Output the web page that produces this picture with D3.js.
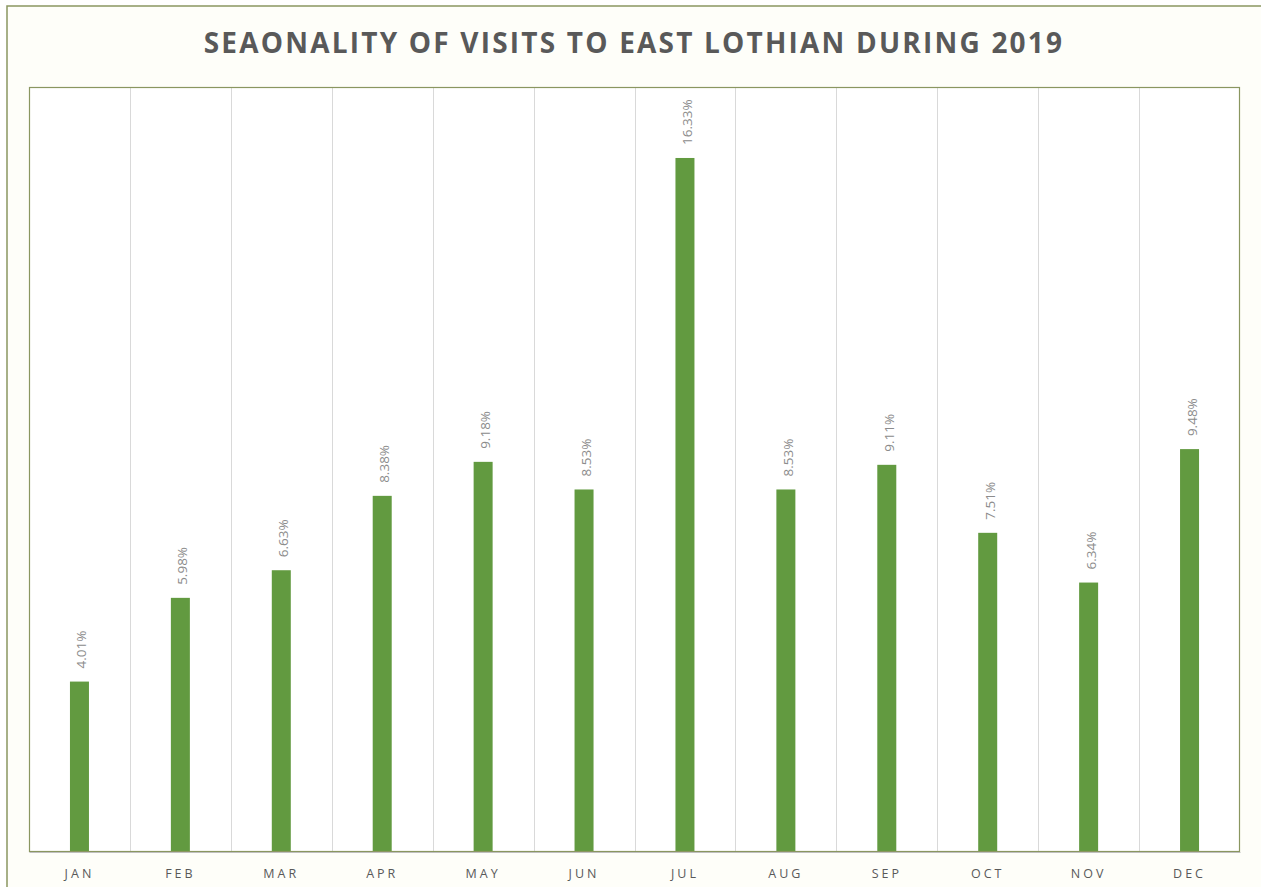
<!DOCTYPE html>
<html>
<head>
<meta charset="utf-8">
<script src="https://cdn.jsdelivr.net/npm/d3@7"></script>
<style>
  html, body { margin: 0; padding: 0; background: #ffffff; }
  svg { display: block; }
</style>
</head>
<body>
<svg id="chart" width="1261" height="887"></svg>
<script>
const months = ["JAN","FEB","MAR","APR","MAY","JUN","JUL","AUG","SEP","OCT","NOV","DEC"];
const shares = [4.01, 5.98, 6.63, 8.38, 9.18, 8.53, 16.33, 8.53, 9.11, 7.51, 6.34, 9.48];
const labels = ["4.01%","5.98%","6.63%","8.38%","9.18%","8.53%","16.33%","8.53%","9.11%","7.51%","6.34%","9.48%"];
const titleText = "SEAONALITY OF VISITS TO EAST LOTHIAN DURING 2019";

const svg = d3.select("#chart");

// outer frame
svg.append("rect").attr("x", 7).attr("y", 6).attr("width", 1270).attr("height", 900)
  .attr("fill", "#fefef9").attr("stroke", "#8a9660").attr("stroke-width", 1.5);

const plot = { left: 29, top: 87, right: 1240, bottom: 852 };

svg.append("rect").attr("x", plot.left).attr("y", plot.top)
  .attr("width", plot.right - plot.left).attr("height", plot.bottom - plot.top)
  .attr("fill", "#ffffff");

const x = d3.scaleBand().domain(months).range([plot.left, plot.right]).paddingInner(0).paddingOuter(0);
const y = d3.scaleLinear().domain([0, 18]).range([plot.bottom, plot.top]);

// vertical gridlines at band boundaries
const g = svg.append("g");
g.selectAll("line.grid").data(months.slice(1)).join("line")
  .attr("class", "grid")
  .attr("x1", d => Math.round(x(d)) + 0.5).attr("x2", d => Math.round(x(d)) + 0.5)
  .attr("y1", plot.top).attr("y2", plot.bottom)
  .attr("stroke", "#d9d9d9").attr("stroke-width", 1);

// bars
const barW = 19;
g.selectAll("rect.bar").data(months).join("rect")
  .attr("class", "bar")
  .attr("x", d => x(d) + x.bandwidth() / 2 - barW / 2)
  .attr("y", (d, i) => y(shares[i]))
  .attr("width", barW)
  .attr("height", (d, i) => plot.bottom - y(shares[i]))
  .attr("fill", "#629a40");

// bar labels
g.selectAll("text.val").data(months).join("text")
  .attr("class", "val")
  .attr("transform", (d, i) => `translate(${x(d) + x.bandwidth() / 2 + 7},${y(shares[i]) - 13}) rotate(-90)`)
  .attr("text-anchor", "start")
  .attr("font-family", "'Open Sans', sans-serif")
  .attr("font-size", 13.5)
  .attr("fill", "#8c8c8c")
  .text((d, i) => labels[i]);

// plot border
svg.append("rect").attr("x", plot.left + 0.5).attr("y", plot.top + 0.5)
  .attr("width", plot.right - plot.left - 1).attr("height", plot.bottom - plot.top - 1)
  .attr("fill", "none").attr("stroke", "#8a9660").attr("stroke-width", 1.2);

// x axis
const xAxis = d3.axisBottom(x).tickSize(0).tickPadding(17);
const ax = svg.append("g").attr("transform", `translate(0,${plot.bottom})`).call(xAxis);
ax.select(".domain").attr("stroke", "#bfbfbf");
ax.selectAll("text")
  .attr("font-family", "'Open Sans', sans-serif")
  .attr("font-size", 12.5)
  .attr("letter-spacing", "3px")
  .attr("fill", "#595959");

// title
svg.append("text")
  .attr("x", 634).attr("y", 53)
  .attr("text-anchor", "middle")
  .attr("font-family", "'Open Sans', sans-serif")
  .attr("font-weight", "bold")
  .attr("font-size", 28)
  .attr("letter-spacing", "2.2px")
  .attr("fill", "#595959")
  .text(titleText);
</script>
</body>
</html>
